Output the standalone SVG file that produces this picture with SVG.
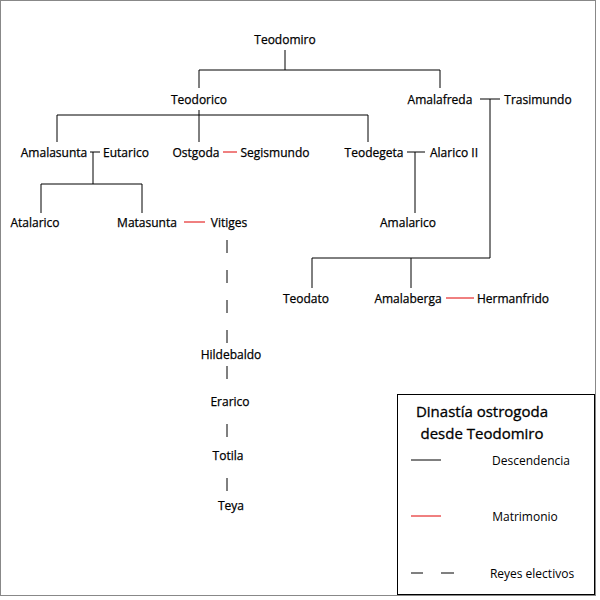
<svg xmlns="http://www.w3.org/2000/svg" width="600" height="600" viewBox="0 0 600 600">
<style>
text{font-family:"Open Sans","Liberation Sans",sans-serif;font-size:12px;fill:#000;text-anchor:middle;dominant-baseline:central;stroke:#000;stroke-width:0.25}
.k{stroke:#000;stroke-width:1;fill:none}
.r{stroke:#e00000;stroke-width:1;fill:none}
.d{stroke:#000;stroke-width:1;fill:none;stroke-dasharray:13,17}
</style>
<rect x="0.5" y="0.5" width="595" height="595" fill="#fff" stroke="#888"/>
<g id="connectors">
<path class="k" d="M285,50V70M199,88V70H440V88"/>
<path class="k" d="M480,99H500M490,99V258M312,288V258H490M411,258V288"/>
<path class="k" d="M199,110V142M57,142V115H368V142"/>
<path class="k" d="M90,152H100M93,152V184M41,213V184H142V213"/>
<path class="r" d="M223,152H237"/>
<path class="k" d="M407,152H425M415,152V213"/>
<path class="r" d="M184,222H205"/>
<path class="r" d="M446,298H474"/>
<path class="d" d="M227,240V345"/>
<path class="d" d="M227,366V382"/>
<path class="d" d="M227,424V440"/>
<path class="d" d="M227,478V494"/>
</g>
<g id="n-teodomiro"><text x="285" y="39">Teodomiro</text></g>
<g id="n-teodorico"><text x="199" y="99">Teodorico</text></g>
<g id="n-amalafreda"><text x="440" y="99">Amalafreda</text></g>
<g id="n-trasimundo"><text x="538" y="99">Trasimundo</text></g>
<g id="n-amalasunta"><text x="54" y="152">Amalasunta</text></g>
<g id="n-eutarico"><text x="126" y="152">Eutarico</text></g>
<g id="n-ostgoda"><text x="196" y="152">Ostgoda</text></g>
<g id="n-segismundo"><text x="275" y="152">Segismundo</text></g>
<g id="n-teodegeta"><text x="374" y="152">Teodegeta</text></g>
<g id="n-alarico"><text x="454" y="152">Alarico II</text></g>
<g id="n-atalarico"><text x="35" y="222">Atalarico</text></g>
<g id="n-matasunta"><text x="147" y="222">Matasunta</text></g>
<g id="n-vitiges"><text x="229" y="222">Vitiges</text></g>
<g id="n-amalarico"><text x="408" y="222">Amalarico</text></g>
<g id="n-teodato"><text x="306" y="298">Teodato</text></g>
<g id="n-amalaberga"><text x="408" y="298">Amalaberga</text></g>
<g id="n-hermanfrido"><text x="513" y="298">Hermanfrido</text></g>
<g id="n-hildebaldo"><text x="231" y="354">Hildebaldo</text></g>
<g id="n-erarico"><text x="230" y="401">Erarico</text></g>
<g id="n-totila"><text x="228" y="455">Totila</text></g>
<g id="n-teya"><text x="231" y="505">Teya</text></g>
<g id="legend">
<rect x="397.5" y="394.5" width="197" height="200" fill="#fff" stroke="#000"/>
<text x="482" y="411" style="font-size:15px;stroke-width:0.3">Dinastía ostrogoda</text>
<text x="482" y="433" style="font-size:15px;stroke-width:0.3">desde Teodomiro</text>
<path class="k" d="M411,460H441"/>
<text x="531" y="460" style="stroke:none">Descendencia</text>
<path class="r" d="M411,516H441"/>
<text x="525" y="516" style="stroke:none">Matrimonio</text>
<path class="k" d="M411,573H423M441,573H454"/>
<text x="532" y="573" style="stroke:none">Reyes electivos</text>
</g>
</svg>
